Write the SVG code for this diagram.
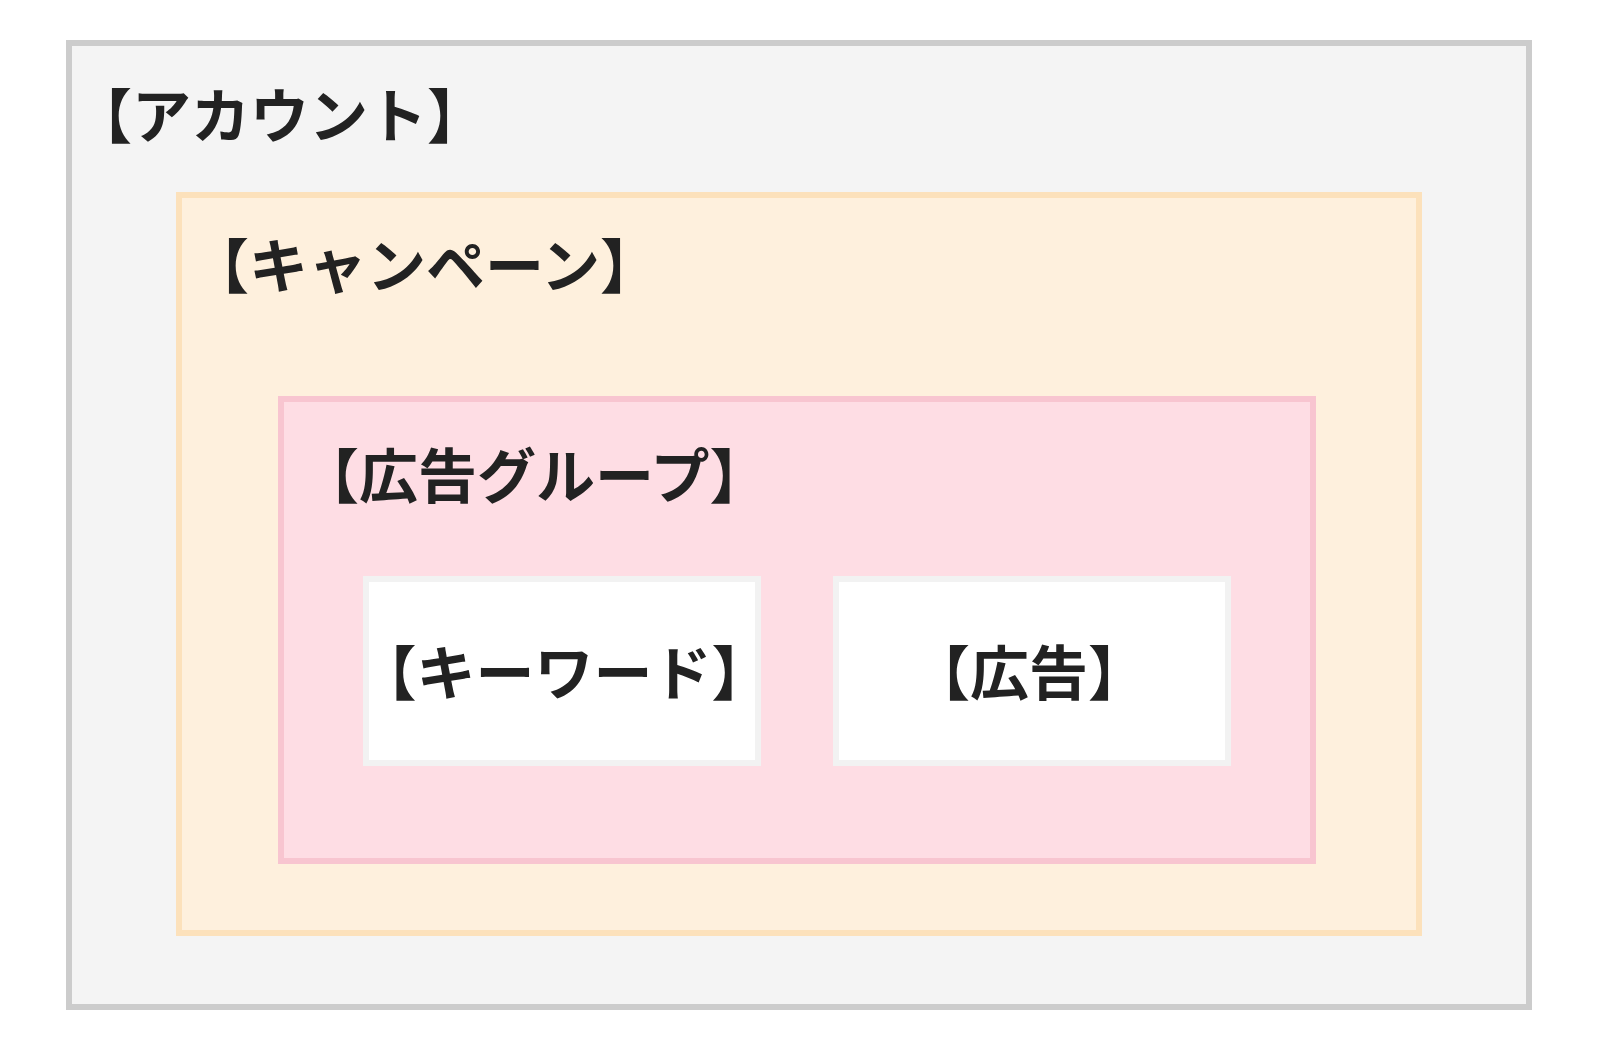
<svg xmlns="http://www.w3.org/2000/svg" width="1600" height="1050" viewBox="0 0 1600 1050">
<style>
.t{font-family:"Noto Sans CJK JP","Noto Sans CJK SC",sans-serif;font-weight:bold;font-size:59px;fill:#222222}
</style>
<rect width="1600" height="1050" fill="#ffffff"/>
<g id="account">
<rect x="69" y="43" width="1460" height="964" fill="#f4f4f4" stroke="#cccccc" stroke-width="6"/>
<text class="t" x="73" y="138">【アカウント】</text>
</g>
<g id="campaign">
<rect x="179" y="195" width="1240" height="738" fill="#fef0dd" stroke="#fce1bb" stroke-width="6"/>
<text class="t" x="190" y="288">【キャンペーン】</text>
</g>
<g id="adgroup">
<rect x="281" y="399" width="1032" height="462" fill="#feddE4" stroke="#f8c5d0" stroke-width="6"/>
<text class="t" x="300" y="498">【広告グループ】</text>
</g>
<g id="keyword">
<rect x="366" y="579" width="392" height="184" fill="#ffffff" stroke="#f2f2f2" stroke-width="6"/>
<text class="t" x="564" y="695" text-anchor="middle">【キーワード】</text>
</g>
<g id="ad">
<rect x="836" y="579" width="392" height="184" fill="#ffffff" stroke="#f2f2f2" stroke-width="6"/>
<text class="t" x="1029" y="695" text-anchor="middle">【広告】</text>
</g>
<g id="connectors"/>
</svg>
